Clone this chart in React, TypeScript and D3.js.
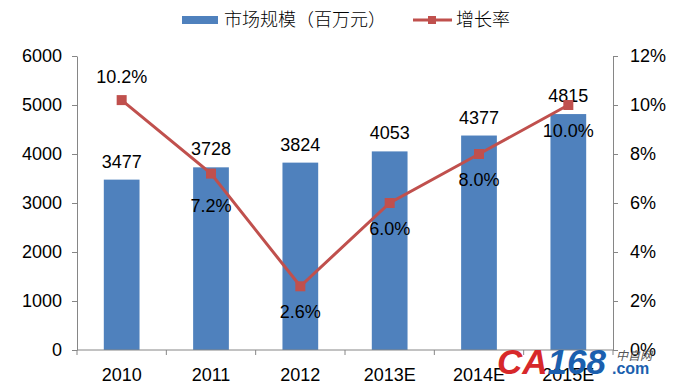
import * as d3 from "d3";
import { useEffect, useRef } from "react";

const years = ["2010", "2011", "2012", "2013E", "2014E", "2015E"];
const marketSize = [3477, 3728, 3824, 4053, 4377, 4815];
const growthRate = [10.2, 7.2, 2.6, 6.0, 8.0, 10.0];
const leftTicks = [0, 1000, 2000, 3000, 4000, 5000, 6000];
const rightTicks = [0, 2, 4, 6, 8, 10, 12];
const seriesNames = ["市场规模（百万元）", "增长率"];

export default function App() {
  const ref = useRef<SVGSVGElement>(null);

  useEffect(() => {
    const svg = d3.select(ref.current);
    svg.selectAll("*").remove();

    const font = "'Liberation Sans', Arial, sans-serif";
    const axisColor = "#868686";
    const barColor = "#4F81BD";
    const lineColor = "#C0504D";

    const left = 77,
      right = 613,
      top = 56,
      bottom = 350;

    // scales
    const x = d3.scaleBand().domain(years).range([left, right]).paddingInner(0.6).paddingOuter(0.3);
    const xb = d3.scaleBand().domain(years).range([left, right]);
    const y = d3.scaleLinear().domain([0, 6000]).range([bottom, top]);
    const y2 = d3.scaleLinear().domain([0, 12]).range([bottom, top]);

    // bars
    svg
      .append("g")
      .selectAll("rect")
      .data(marketSize)
      .enter()
      .append("rect")
      .attr("x", (d, i) => x(years[i])!)
      .attr("y", (d) => y(d))
      .attr("width", x.bandwidth())
      .attr("height", (d) => bottom - y(d))
      .attr("fill", barColor);

    // left axis
    const gl = svg.append("g").attr("transform", "translate(" + left + ",0)");
    gl.call(d3.axisLeft(y).tickValues(leftTicks).tickSize(5).tickSizeOuter(0).tickPadding(10).tickFormat(d3.format("d")));

    // right axis
    const gr = svg.append("g").attr("transform", "translate(" + right + ",0)");
    gr.call(
      d3
        .axisRight(y2)
        .tickValues(rightTicks)
        .tickSize(5)
        .tickSizeOuter(0)
        .tickPadding(12)
        .tickFormat((d) => d + "%")
    );

    // bottom axis, ticks at category boundaries
    const gb = svg.append("g").attr("transform", "translate(0," + bottom + ")");
    gb.append("line").attr("x1", left).attr("x2", right).attr("stroke", axisColor);
    gb.selectAll("line.tick")
      .data(years.concat(["end"]))
      .enter()
      .append("line")
      .attr("class", "tick")
      .attr("x1", (d, i) => (i < years.length ? xb(d)! : right))
      .attr("x2", (d, i) => (i < years.length ? xb(d)! : right))
      .attr("y1", 0)
      .attr("y2", 5)
      .attr("stroke", axisColor);
    gb.selectAll("text")
      .data(years)
      .enter()
      .append("text")
      .attr("x", (d) => xb(d)! + xb.bandwidth() / 2)
      .attr("y", 31)
      .attr("text-anchor", "middle")
      .text((d) => d);

    [gl, gr, gb].forEach((g) => {
      g.selectAll("path.domain").attr("stroke", axisColor);
      g.selectAll(".tick line").attr("stroke", axisColor);
      g.selectAll("text").attr("font-family", font).attr("font-size", 18).attr("fill", "#000");
    });

    // bar value labels
    svg
      .append("g")
      .selectAll("text")
      .data(marketSize)
      .enter()
      .append("text")
      .attr("x", (d, i) => x(years[i])! + x.bandwidth() / 2)
      .attr("y", (d) => y(d) - 12)
      .attr("text-anchor", "middle")
      .attr("font-family", font)
      .attr("font-size", 18)
      .text((d) => d);

    // growth line
    const cx = (i: number) => xb(years[i])! + xb.bandwidth() / 2;
    const line = d3
      .line<number>()
      .x((d, i) => cx(i))
      .y((d) => y2(d));
    svg
      .append("path")
      .datum(growthRate)
      .attr("d", line)
      .attr("fill", "none")
      .attr("stroke", lineColor)
      .attr("stroke-width", 3);
    svg
      .append("g")
      .selectAll("rect")
      .data(growthRate)
      .enter()
      .append("rect")
      .attr("x", (d, i) => cx(i) - 5)
      .attr("y", (d) => y2(d) - 5)
      .attr("width", 10)
      .attr("height", 10)
      .attr("fill", lineColor);
    svg
      .append("g")
      .selectAll("text")
      .data(growthRate)
      .enter()
      .append("text")
      .attr("x", (d, i) => cx(i))
      .attr("y", (d, i) => (i === 0 ? y2(d) - 17 : i === 1 ? y2(d) + 38 : y2(d) + 32))
      .attr("text-anchor", "middle")
      .attr("font-family", font)
      .attr("font-size", 18)
      .text((d) => d.toFixed(1) + "%");

    // legend
    const cjk = "'Noto Sans CJK SC', sans-serif";
    const lg = svg.append("g");
    lg.append("rect").attr("x", 182).attr("y", 16).attr("width", 36).attr("height", 8).attr("fill", barColor);
    lg.append("text").attr("x", 224).attr("y", 26).attr("font-family", cjk).attr("font-size", 18).attr("font-weight", 300).text(seriesNames[0]);
    lg.append("line").attr("x1", 413).attr("x2", 452).attr("y1", 20).attr("y2", 20).attr("stroke", lineColor).attr("stroke-width", 3);
    lg.append("rect").attr("x", 428).attr("y", 16).attr("width", 8).attr("height", 8).attr("fill", lineColor);
    lg.append("text").attr("x", 456).attr("y", 26).attr("font-family", cjk).attr("font-size", 18).attr("font-weight", 300).text(seriesNames[1]);

    // watermark
    const wm = svg.append("g");
    const logo = wm
      .append("text")
      .attr("x", 497)
      .attr("y", 374)
      .attr("font-family", font)
      .attr("font-size", 35)
      .attr("font-weight", "bold")
      .attr("font-style", "italic");
    logo.append("tspan").attr("fill", "#D7282A").text("CA");
    logo.append("tspan").attr("fill", "#1B5FAE").text("168");
    wm.append("text")
      .attr("x", 612)
      .attr("y", 374)
      .attr("font-family", font)
      .attr("font-size", 16)
      .attr("font-weight", "bold")
      .attr("fill", "#1B5FAE")
      .text(".com");
    wm.append("text")
      .attr("x", 616)
      .attr("y", 360)
      .attr("font-family", cjk)
      .attr("font-size", 12)
      .attr("font-style", "italic")
      .attr("fill", "#555")
      .text("中自网");
  }, []);

  return <svg ref={ref} width={676} height={391} style={{ position: "absolute", left: 0, top: 0, background: "#fff" }} />;
}
